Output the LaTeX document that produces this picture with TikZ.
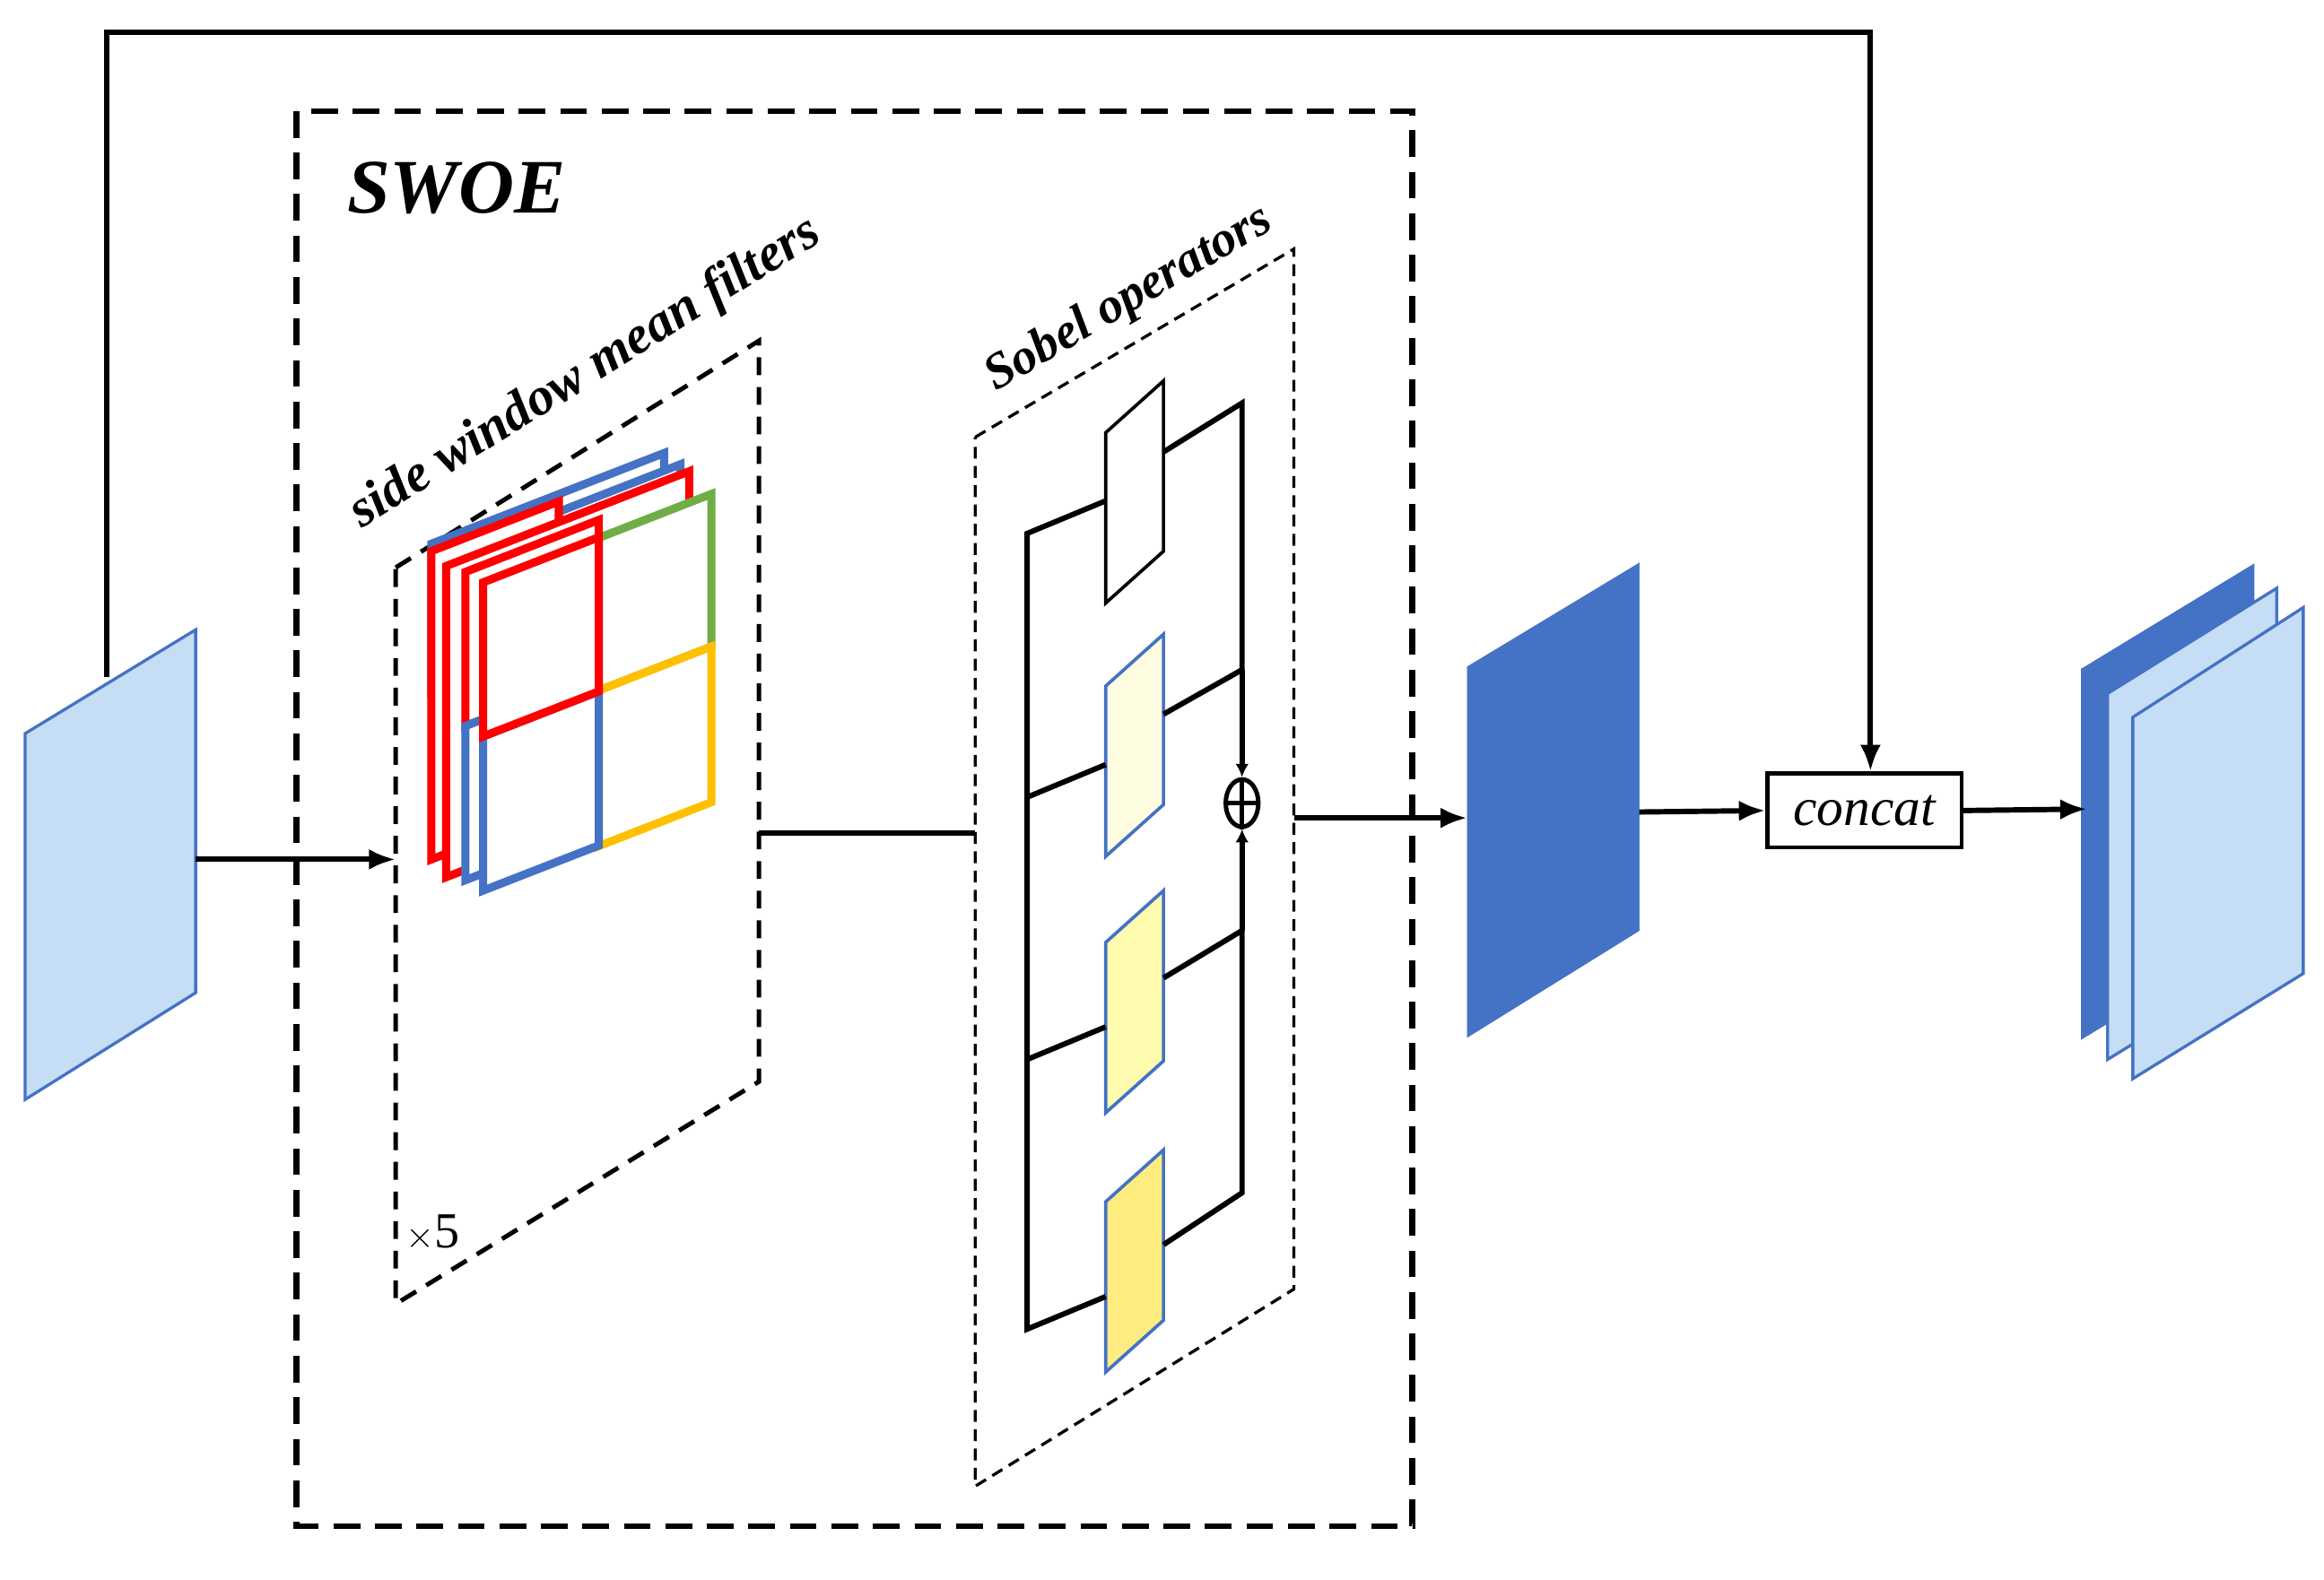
\documentclass[tikz,border=0pt]{standalone}
\usepackage{fontspec}
\setmainfont{Liberation Serif}
\usetikzlibrary{arrows.meta,shapes.geometric}
\definecolor{lblue}{RGB}{197,221,245}
\definecolor{dblue}{RGB}{68,114,196}
\definecolor{fgreen}{RGB}{112,173,71}
\definecolor{fyellow}{RGB}{255,192,0}
\definecolor{yA}{RGB}{255,253,225}
\definecolor{yB}{RGB}{255,252,176}
\definecolor{yC}{RGB}{255,236,128}
\tikzset{
  conn/.style={line width=3.6pt},
  arr/.style={conn,-{Latex[length=18pt,width=14pt]}},
  win/.style={line width=5.5pt,fill=white,line join=miter},
  sob/.style={line width=2.2pt}
}
% slanted frame: x, y, width, height, colour
\newcommand\swframe[5]{\draw[win,draw=#5] (#1,#2) -- ++(#3,-0.39*#3) -- ++(0,#4) -- ++(-#3,0.39*#3) -- cycle;}
% sobel box: y of left top edge, fill, draw
\newcommand\sobbox[3]{\draw[sob,fill=#2,draw=#3] (746,#1) -- (785,#1-35) -- (785,#1+80) -- (746,#1+115) -- cycle;}
\begin{document}
\begin{tikzpicture}[x=1pt,y=-1pt]
\useasboundingbox (0,0) rectangle (1568,1066);

% input feature
\draw[dblue,line width=2pt,fill=lblue] (17,495) -- (132,425) -- (132,670) -- (17,742) -- cycle;
\coordinate (inR) at (132,580);
\coordinate (inT) at (72,457);

% SWOE block
\draw[line width=4pt,dash pattern=on 18pt off 10pt] (200,75) rectangle (953,1030);
\node[font=\fontsize{52}{52}\selectfont\bfseries\itshape] (swoe) at (308,127) {SWOE};

% side window mean filters
\draw[line width=3pt,dash pattern=on 12pt off 8pt] (267,383) -- (512,230) -- (512,730) -- (267,880) -- cycle;
\coordinate (swL) at (267,580);
\coordinate (swR) at (512,562);
\node[font=\fontsize{36}{36}\selectfont\bfseries\itshape,rotate=32] (swlab) at (395,252) {side window mean filters};
\node[font=\fontsize{34}{34}\selectfont] (times) at (292,832) {$\times$5};

\swframe{291}{367}{157}{100}{dblue}
\swframe{301}{375}{158}{100}{dblue}
\swframe{291}{372}{86}{208}{red}
\swframe{301}{382}{164}{210}{red}
\swframe{314}{386}{90}{104}{red}
\swframe{314}{490}{90}{104}{dblue}
\swframe{404}{363}{76}{103}{fgreen}
\swframe{404}{466}{76}{105}{fyellow}
\swframe{326}{497}{78}{104}{dblue}
\swframe{326}{393}{78}{104}{red}

% Sobel operators
\draw[line width=2pt,dash pattern=on 8pt off 5pt] (658,295) -- (873,168) -- (873,870) -- (658,1003) -- cycle;
\coordinate (sbL) at (658,562);
\coordinate (sbR) at (873,552);
\node[font=\fontsize{34}{34}\selectfont\bfseries\itshape,rotate=30.5] (sblab) at (762,202) {Sobel operators};

\sobbox{292}{white}{black}
\sobbox{463}{yA}{dblue}
\sobbox{636}{yB}{dblue}
\sobbox{811}{yC}{dblue}

\draw[conn] (746,338) -- (693,360) -- (693,897) -- (746,875);
\draw[conn] (693,538) -- (746,516);
\draw[conn] (693,715) -- (746,693);
\draw[conn] (785,305) -- (838,272) -- (838,452);
\draw[conn] (785,482) -- (838,452);
\draw[conn] (785,660) -- (838,628) -- (838,805) -- (785,840);
\node[draw,ellipse,line width=3pt,minimum width=22pt,minimum height=32pt,inner sep=0pt] (plus) at (838,542) {};
\draw[line width=3pt] (plus.north) -- (plus.south) (plus.west) -- (plus.east);
\draw[conn,-{Latex[length=9pt,width=9pt]}] (838,452) -- (plus.north);
\draw[conn,-{Latex[length=9pt,width=9pt]}] (838,628) -- (plus.south);

% middle feature
\draw[draw=dblue,fill=dblue] (990,450) -- (1106,380) -- (1106,628) -- (990,700) -- cycle;
\coordinate (midL) at (990,552);
\coordinate (midR) at (1106,548);

% concat
\node[draw,line width=2.6pt,minimum width=131pt,minimum height=50pt,font=\fontsize{36}{36}\selectfont\itshape] (cat) at (1258,547) {concat};

% output features
\draw[dblue,line width=2pt,fill=dblue] (1405,452) -- (1520,382) -- (1520,630) -- (1405,700) -- cycle;
\draw[dblue,line width=2pt,fill=lblue] (1422,468) -- (1536,397) -- (1536,645) -- (1422,715) -- cycle;
\draw[dblue,line width=2pt,fill=lblue] (1439,484) -- (1554,410) -- (1554,657) -- (1439,728) -- cycle;
\coordinate (outL) at (1408,546);
\coordinate (topL) at (72,22);
\coordinate (topR) at (1262,22);

% connectors
\draw[arr] (inR) -- (swL);
\draw[conn] (swR) -- (sbL);
\draw[arr] (sbR) -- (midL);
\draw[arr] (midR) -- (cat.west);
\draw[arr] (cat.east) -- (outL);
\draw[arr] (inT) -- (topL) -- (topR) -- (topR |- cat.north);
\end{tikzpicture}
\end{document}
